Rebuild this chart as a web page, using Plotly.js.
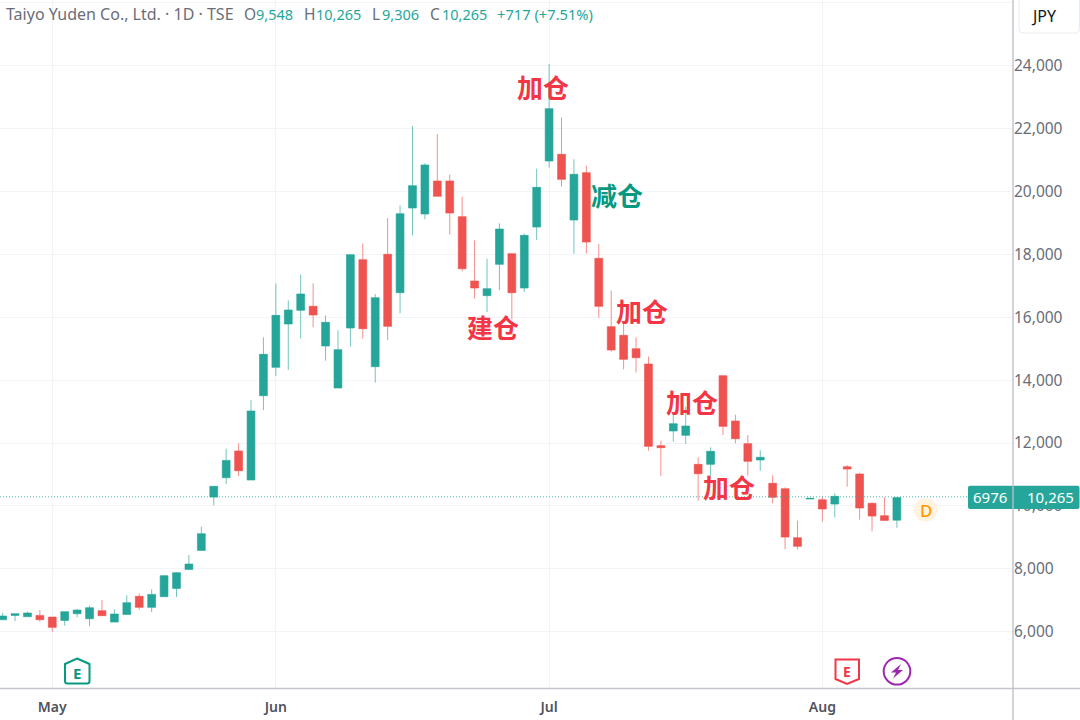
<!DOCTYPE html>
<html>
<head>
<meta charset="utf-8">
<script src="https://cdn.plot.ly/plotly-3.0.1.min.js"></script>
<style>html,body{margin:0;padding:0;background:#fff;overflow:hidden}#c{width:1080px;height:720px}</style>
</head>
<body>
<div id="c"></div>
<script>
// index of each daily bar (0 = first trading day of May)
var barIndex = [];
for (var k = -4; k <= 68; k++) barIndex.push(k);

var opens = [6382,6519,6477,6519,6466,6360,6572,6413,6668,6307,6551,7124,6774,7113,7378,7982,8586,10282,10897,11745,10824,13506,14407,15785,16219,16347,15085,13750,15658,17830,14428,18000,16781,19474,19283,20332,20332,19198,17152,16686,17682,18021,16930,18869,20968,21180,19092,20597,17873,15700,15424,15000,14513,11916,12382,12244,11322,11322,14142,12700,11980,11460,10718,10547,8989,10219,10198,10060,11247,11014,10081,9689,9548];
var highs = [6604,6572,6636,6689,6466,6636,6710,6837,7007,6710,7155,7219,7346,7802,7897,8438,9339,10622,11819,11989,13368,15361,17078,16537,17354,17078,16060,15583,17990,18350,16739,19156,19558,22081,20894,21827,20534,19834,18445,17862,18986,18021,18657,20724,24053,22357,21021,20820,18329,16845,15806,15361,14746,12075,12965,13156,11545,11863,14142,12902,12255,11767,10972,10590,9530,10240,10293,10399,11300,11056,10113,10272,10265];
var lows = [6382,6339,6477,6318,6000,6191,6456,6170,6509,6307,6551,6700,6625,7113,7102,7961,8586,10017,10696,10950,10824,13050,14131,14322,15318,15679,14619,13750,15064,15318,13919,15276,16124,18604,19113,19845,18626,17460,16590,16166,16855,15933,16802,18456,20756,20152,18021,18032,15986,14905,14343,14248,11757,10951,12043,11969,10167,10824,12255,11990,10962,11120,10082,8618,8618,10219,9498,9636,10611,9562,9191,9540,9306];
var closes = [6498,6572,6594,6382,6138,6636,6689,6763,6509,6562,6922,6774,7187,7781,7876,8152,9116,10622,11448,11120,13018,14820,16060,16230,16739,16071,15838,14969,17990,15636,16622,15711,19293,20184,20841,19845,19315,17544,16930,16908,18806,16781,18604,20131,22632,20385,20544,18392,16347,14958,14661,14714,11895,11852,12615,12541,11025,11736,12530,12138,11418,11545,10273,9010,8714,10240,9901,10304,11173,9933,9678,9540,10265];

var monthIndex = [0, 18, 40, 62];
var monthLabels = ['May', 'Jun', 'Jul', 'Aug'];
var priceTicks = [6000,8000,10000,12000,14000,16000,18000,20000,22000,24000,26000];
var priceLabels = ['6,000','8,000','10,000','12,000','14,000','16,000','18,000','20,000','22,000','24,000',''];

var noteText = ['加仓','减仓','建仓','加仓','加仓','加仓'];
var noteIndex = [39.5,45.5,35.5,47.5,51.5,54.5];
var notePrice = [23350,19915,15690,16225,13330,10625];
var noteColor = ['#f23645','#089981','#f23645','#f23645','#f23645','#f23645'];

var lastPrice = 10290;
var lastLabel = '10,265';
var countdownLabel = '6976';

var headerParts = ['Taiyo Yuden Co., Ltd. · 1D · TSE','O','9,548','H','10,265','L','9,306','C','10,265','+717 (+7.51%)'];
var headerLeft = [3.5,241.5,253.5,302,314,370,379.5,428,439.5,495];
var headerSize = [16,15.5,14.5,15.5,14.5,15.5,14.5,15.5,14.5,14.7];
var headerIsValue = [0,0,1,0,1,0,1,0,1,1];

var GREEN = '#26a69a', RED = '#ef5350';
var FONT = '"Noto Sans", "Open Sans", sans-serif';
var W = 1013, H = 688;
function px(x){ return x / W; }
function py(y){ return 1 - y / H; }
function P(c, pts){ // path in paper coords from pixel pairs
  return c.map(function(cmd, i){
    var p = pts[i]; if(!p) return cmd;
    var s = cmd;
    for(var j=0;j<p.length;j+=2){ s += (j?' ':'') + px(p[j]) + ',' + py(p[j+1]); }
    return s;
  }).join(' ');
}
function paperShape(path, o){
  return Object.assign({type:'path', xref:'paper', yref:'paper', path:path, layer:'above'}, o);
}
function circle(cx, cy, r, o){
  return Object.assign({type:'circle', xref:'paper', yref:'paper', x0:px(cx-r), x1:px(cx+r), y0:py(cy+r), y1:py(cy-r), layer:'above'}, o);
}
function label(x, y, text, size, color, extra){
  return Object.assign({xref:'paper', yref:'paper', x:px(x), y:py(y), text:text, showarrow:false,
    font:{family:FONT, size:size, color:color}, xanchor:'center', yanchor:'middle'}, extra||{});
}

var shapes = [
  // last-price dotted line
  {type:'line', xref:'paper', yref:'y', x0:0, x1:px(968), y0:lastPrice, y1:lastPrice, layer:'above',
   line:{color:'rgba(38,166,154,0.8)', width:1, dash:'1px,2px'}},
  // last-price tag
  paperShape(P(['M','L','Q','L','Q','L','Q','L','Q','Z'],[
    [970,485.7],[1077.5,485.7],[1079.5,485.7,1079.5,487.7],[1079.5,507],[1079.5,509,1077.5,509],[970,509],[968,509,968,507],[968,487.7],[968,485.7,970,485.7]
  ]), {fillcolor:GREEN, line:{width:0}}),
  // axis borders
  {type:'line', xref:'paper', yref:'paper', x0:px(1013), x1:px(1013), y0:py(720), y1:py(0), layer:'above', line:{color:'rgba(190,192,202,0.9)', width:1.5}},
  {type:'line', xref:'paper', yref:'paper', x0:0, x1:px(1080), y0:py(688.5), y1:py(688.5), layer:'above', line:{color:'#c4c6ce', width:1.5}},
  // JPY button
  paperShape(P(['M','L','Q','L','Q','L'],[
    [1079.5,0],[1079.5,29],[1079.5,33,1075.5,33],[1023,33],[1019,33,1019,29],[1019,0]
  ]), {fillcolor:'#ffffff', line:{color:'#e9ebf0', width:1}}),
  // earnings icon (house)
  paperShape(P(['M','L','L','Q','L','Q','L','Z'],[
    [77,658.5],[89.5,664],[89.5,681],[89.5,683.5,87,683.5],[67.5,683.5],[65,683.5,65,681],[65,664]
  ]), {fillcolor:'rgba(255,255,255,0)', line:{color:'#089981', width:2}}),
  // earnings icon (shield)
  paperShape(P(['M','L','L','L','L','Z'],[
    [835.5,659.5],[859,659.5],[859,679],[847,684],[835.5,679]
  ]), {fillcolor:'rgba(255,255,255,0)', line:{color:'#f23645', width:2}}),
  // dividend / split icons
  circle(897, 671.3, 13.3, {fillcolor:'rgba(255,255,255,0)', line:{color:'#9c27b0', width:2}}),
  paperShape(P(['M','L','L','L','L','L','Z'],[
    [901,664],[891,672.5],[896,672.5],[893,678.5],[903,670],[898,670]
  ]), {fillcolor:'#9c27b0', line:{width:0}}),
  circle(925.7, 510, 11.7, {fillcolor:'#fff3e0', line:{width:0}})
];

var notes = noteText.map(function(t, i){
  return {xref:'x', yref:'y', x:noteIndex[i], y:notePrice[i], text:t, showarrow:false,
    font:{family:'"Noto Sans CJK SC", sans-serif', size:26, color:noteColor[i], weight:700},
    xanchor:'center', yanchor:'middle'};
});

var headerNotes = headerParts.map(function(t, i){
  return label(headerLeft[i], 14.5, t, headerSize[i], headerIsValue[i] ? '#26a69a' : '#6a6d78', {xanchor:'left'});
});

var annos = notes.concat(headerNotes).concat([
  label(1044, 16, 'JPY', 16, '#131722'),
  label(990, 497.3, countdownLabel, 15, '#ffffff'),
  label(1050.3, 497.3, lastLabel, 15, '#ffffff'),
  label(77, 672.5, 'E', 15, '#089981', {font:{family:FONT,size:15,color:'#089981',weight:700}}),
  label(847, 671, 'E', 14, '#f23645', {font:{family:FONT,size:14,color:'#f23645',weight:700}}),
  label(925.7, 510, 'D', 17, '#ff9800', {font:{family:FONT,size:17,color:'#ff9800',weight:500}})
]);

var trace = {
  type:'candlestick', x:barIndex, open:opens, high:highs, low:lows, close:closes,
  increasing:{line:{color:'rgba(38,166,154,0.65)', width:1}, fillcolor:GREEN},
  decreasing:{line:{color:'rgba(239,83,80,0.65)', width:1}, fillcolor:RED},
  whiskerwidth:0, hoverinfo:'skip'
};

var layout = {
  width:1080, height:720, showlegend:false, hovermode:false, dragmode:false,
  paper_bgcolor:'#ffffff', plot_bgcolor:'#ffffff',
  margin:{l:0, r:67, t:0, b:32, pad:0},
  boxgap:0.1,
  xaxis:{type:'linear', range:[-4.21, 77.35], rangeslider:{visible:false}, tickmode:'array', tickvals:monthIndex, ticktext:monthLabels,
    showgrid:true, gridcolor:'#f3f4f9', gridwidth:1, zeroline:false, showline:false, ticks:'',
    tickfont:{family:FONT, size:14, color:'#50535e', weight:600}, ticklabelstandoff:9},
  yaxis:{side:'right', range:[4210, 26088], tickmode:'array', tickvals:priceTicks, ticktext:priceLabels,
    showgrid:true, gridcolor:'#f3f4f9', gridwidth:1, zeroline:false, showline:false, ticks:'',
    tickfont:{family:FONT, size:15.5, color:'#6a6d78'}, ticklabelstandoff:11.5},
  shapes:shapes, annotations:annos
};

Plotly.newPlot('c', [trace], layout, {displayModeBar:false, staticPlot:true});
</script>
</body>
</html>
